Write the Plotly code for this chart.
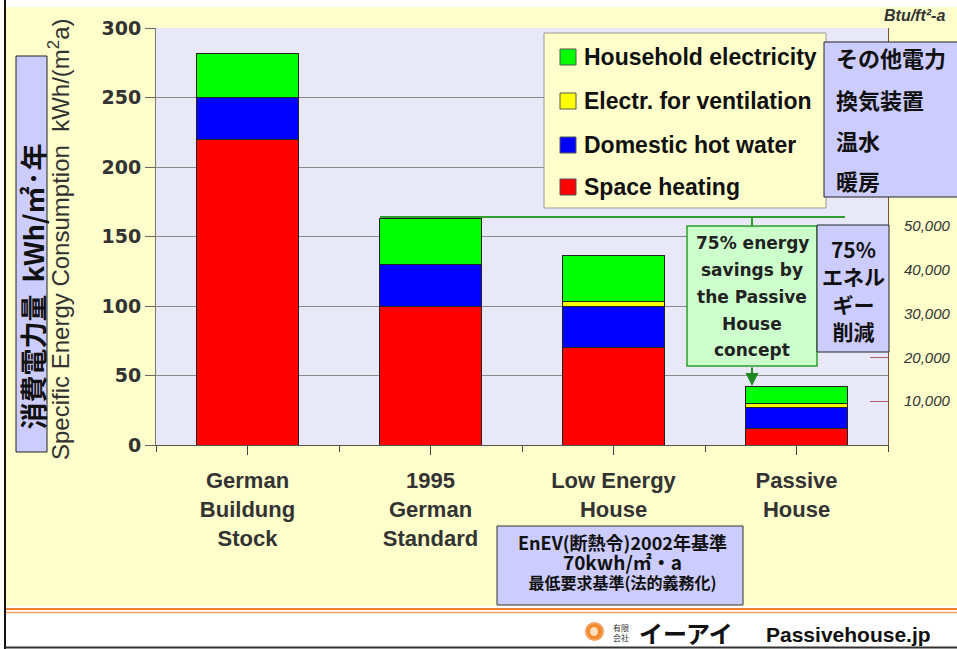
import plotly.graph_objects as go

# ---------------- data ----------------
categories = ["German<br>Buildung<br>Stock", "1995<br>German<br>Standard", "Low Energy<br>House", "Passive<br>House"]
space_heating = [220, 100, 70, 12]
hot_water = [30, 30, 30, 15]
ventilation = [0, 0, 3, 3]
household = [32, 33, 33, 12]
series_names = ["Space heating", "Domestic hot water", "Electr. for ventilation", "Household electricity"]
series_colors = ["#ff0000", "#0000ff", "#ffff00", "#00ff00"]
y_ticks = [0, 50, 100, 150, 200, 250, 300]
btu_ticks = [10000, 20000, 30000, 40000, 50000]
KWH_TO_BTU = 317.1

# ---------------- geometry helpers ----------------
W, H = 957, 649
L, R, T, B = 156, 888, 28, 445


def fx(x):
    return (x - L) / (R - L)


def fy(y):
    return (B - y) / (B - T)


SANS = "Liberation Sans, Arial, Noto Sans CJK JP, sans-serif"
CJK = "Noto Sans CJK JP, Liberation Sans, sans-serif"
WIDE = "DejaVu Sans, Verdana, sans-serif"

fig = go.Figure()
xs = list(range(len(categories)))
for name, vals, col in zip(series_names, [space_heating, hot_water, ventilation, household], series_colors):
    fig.add_trace(go.Bar(x=xs, y=vals, name=name, width=0.56,
                         marker=dict(color=col, line=dict(color="#222222", width=1)),
                         showlegend=False))
# invisible trace on secondary axis to activate it
fig.add_trace(go.Scatter(x=[0], y=[0], yaxis="y2", mode="markers",
                         marker=dict(opacity=0), showlegend=False, hoverinfo="skip"))

fig.update_layout(
    width=W, height=H,
    margin=dict(l=L, r=W - R, t=T, b=H - B, autoexpand=False),
    paper_bgcolor="#ffffcc",
    plot_bgcolor="#e8e8f8",
    barmode="stack",
    font=dict(family=SANS, color="#333333"),
    xaxis=dict(range=[-0.5, 3.5], tickvals=xs, ticktext=categories,
               ticks="outside", ticklen=9, tickcolor="#444", showline=True,
               linecolor="#555", linewidth=1, showgrid=False, zeroline=False,
               ticklabelstandoff=7,
               tickfont=dict(family=SANS, size=22, color="#333", weight="bold"),
               minor=dict(tickvals=[-0.5, 0.5, 1.5, 2.5, 3.5], ticks="outside",
                          ticklen=6, tickcolor="#444")),
    yaxis=dict(range=[0, 300], tickvals=y_ticks, ticks="outside", ticklen=10,
               tickcolor="#666", showline=True, linecolor="#777", linewidth=1,
               showgrid=True, gridcolor="#8a8a8a", gridwidth=1, zeroline=False,
               tickfont=dict(family="DejaVu Sans", size=19, color="#333", weight="bold")),
    yaxis2=dict(range=[0, 300 * KWH_TO_BTU], overlaying="y", side="right",
                tickvals=btu_ticks, tickformat=",d", ticks="inside", ticklen=18,
                tickcolor="#b06060", showline=True, linecolor="#8b4a3a", linewidth=1,
                showgrid=False, zeroline=False, ticklabelstandoff=12,
                tickfont=dict(family=SANS, size=15, color="#333", style="italic")),
)

shapes = []
annots = []


def text(x, y, t, font, xanchor="center", yanchor="middle", **kw):
    annots.append(dict(xref="paper", yref="paper", x=fx(x), y=fy(y), text=t, showarrow=False,
                       xanchor=xanchor, yanchor=yanchor, font=font, **kw))


def rect(x0, y0, x1, y1, fill, line_color, lw=1):
    shapes.append(dict(type="rect", xref="paper", yref="paper", x0=fx(x0), x1=fx(x1), y0=fy(y0), y1=fy(y1),
                       fillcolor=fill, line=dict(color=line_color, width=lw)))


def hline(x0, x1, y, color, lw):
    shapes.append(dict(type="line", xref="paper", yref="paper", x0=fx(x0), x1=fx(x1), y0=fy(y), y1=fy(y),
                       line=dict(color=color, width=lw)))


def vline(x, y0, y1, color, lw):
    shapes.append(dict(type="line", xref="paper", yref="paper", x0=fx(x), x1=fx(x), y0=fy(y0), y1=fy(y1),
                       line=dict(color=color, width=lw)))


# white framing strips / footer
rect(0, 0, W, 7, "white", "rgba(0,0,0,0)", 0)
rect(0, 606, W, H, "white", "rgba(0,0,0,0)", 0)
rect(0, 0, 4, H, "white", "rgba(0,0,0,0)", 0)
vline(5, 0, H, "#111", 2)
hline(5, W, 647.5, "#333", 2)
hline(6, W, 609, "#f07f2a", 2)
hline(6, W, 612.5, "#f5a060", 1.5)

# Y-axis titles
text(59, 239, "Specific Energy Consumption  kWh/(m<sup>2</sup>a)",
     dict(family=SANS, size=24, color="#333"), textangle=-90)
rect(16, 56, 47, 452, "#ccccff", "#222")
text(31.5, 287, "消費電力量  kWh/㎡·年", dict(family=CJK, size=27, color="#111", weight="bold"), textangle=-90)

# Btu label
text(914, 16, "Btu/ft²-a", dict(family=SANS, size=16, color="#333", style="italic", weight="bold"))

# legend box
rect(544, 33, 826, 208, "#ffffcc", "#999")
legend_order = [3, 2, 1, 0]
legend_y = [57, 101, 145, 187]
for idx, yy in zip(legend_order, legend_y):
    rect(560, yy - 8, 576, yy + 8, series_colors[idx], "#555")
    text(582, yy, series_names[idx], dict(family=SANS, size=23, color="#111", weight="bold"), xanchor="left")

# Japanese legend box
rect(824, 42, W + 5, 197, "#ccccff", "#222")
for t, yy in zip(["その他電力", "換気装置", "温水", "暖房"], [57, 99, 140, 180]):
    text(834, yy, t, dict(family=CJK, size=22, color="#111", weight="bold"), xanchor="left")

# green connector line
hline(380, 845, 217, "#2e9e2e", 2)
vline(752, 217, 226, "#2e9e2e", 2)
# green box
rect(687, 226, 817, 366, "#ccffcc", "#2e9e2e", 1.5)
for t, yy in zip(["75% energy", "savings by", "the Passive", "House", "concept"], [243, 270, 297, 324, 350]):
    text(752, yy, t, dict(family=WIDE, size=17, color="#222", weight="bold"))
# arrow
annots.append(dict(xref="paper", yref="paper", x=fx(752), y=fy(386), ax=0, ay=-20, text="",
                   showarrow=True, arrowhead=2, arrowsize=1.3, arrowwidth=2, arrowcolor="#1f8a1f"))

# 75% Japanese box
rect(817, 225, 889, 352, "#ccccff", "#222")
text(853, 290, "75%<br>エネル<br>ギー<br>削減", dict(family=CJK, size=21, color="#111", weight="bold"))

# EnEV box
rect(497, 526, 743, 605, "#ccccff", "#333")
text(622, 561,
     "<span style='font-size:18px'>EnEV(断熱令)2002年基準</span><br>"
     "<span style='font-size:19px'>70kwh/㎡・a</span><br>"
     "<span style='font-size:16px'>最低要求基準(法的義務化)</span>",
     dict(family=CJK, size=15, color="#111", weight="bold"))

# footer logo
shapes.append(dict(type="circle", xref="paper", yref="paper", x0=fx(586), x1=fx(603), y0=fy(623), y1=fy(640),
                   fillcolor="#f58a2a", line=dict(color="#f0a060", width=2)))
shapes.append(dict(type="circle", xref="paper", yref="paper", x0=fx(590), x1=fx(598), y0=fy(627), y1=fy(636),
                   fillcolor="#fde0c0", line=dict(width=0)))
text(611, 632, "有限<br>会社", dict(family=CJK, size=8, color="#333"), xanchor="left")
text(637, 632, "イーアイ", dict(family=CJK, size=24, color="#111", weight="bold"), xanchor="left")
text(764, 634, "Passivehouse.jp", dict(family=SANS, size=21, color="#111", weight="bold"), xanchor="left")

fig.update_layout(shapes=shapes, annotations=annots)
fig.write_html("out.html", config={"displayModeBar": False},
               post_script="document.body.style.margin='0';document.body.style.overflow='hidden';")
